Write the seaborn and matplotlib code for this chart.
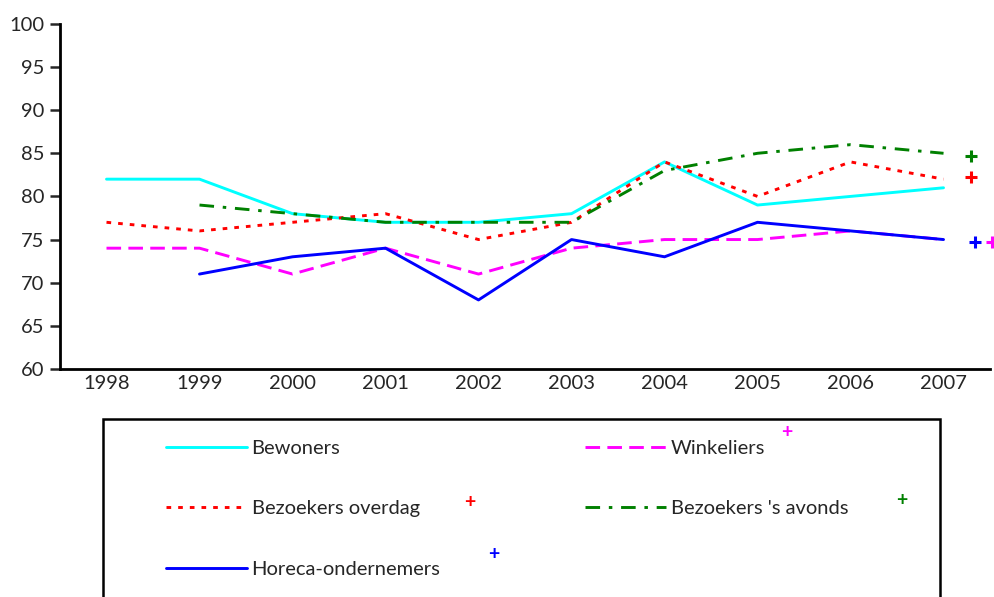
import numpy as np
import pandas as pd
import seaborn as sns
import matplotlib.pyplot as plt
from matplotlib.lines import Line2D
from matplotlib.patches import Rectangle

sns.set_style('white')
plt.rcParams['font.family'] = ['Lato', 'DejaVu Sans']

years = [1998, 1999, 2000, 2001, 2002, 2003, 2004, 2005, 2006, 2007]
bewoners = [82, 82, 78, 77, 77, 78, 84, 79, 80, 81]
winkeliers = [74, 74, 71, 74, 71, 74, 75, 75, 76, 75]
overdag = [77, 76, 77, 78, 75, 77, 84, 80, 84, 82]
avonds = [np.nan, 79, 78, 77, 77, 77, 83, 85, 86, 85]
horeca = [np.nan, 71, 73, 74, 68, 75, 73, 77, 76, 75]

series_names = ['Bewoners', 'Winkeliers', 'Bezoekers overdag',
                "Bezoekers 's avonds", 'Horeca-ondernemers']
colors = ['#00FFFF', '#FF00FF', '#FF0000', '#008000', '#0000FF']
dash_styles = ['', (5, 2.5), (1.6, 2.4), (5, 3, 1.2, 3), '']

# significance crosses next to the 2007 values
sig_x = [2007.3, 2007.3, 2007.34, 2007.52]
sig_y = [84.7, 82.3, 74.7, 74.7]
sig_colors = ['#008000', '#FF0000', '#0000FF', '#FF00FF']

df = pd.DataFrame({'jaar': years, 'Bewoners': bewoners, 'Winkeliers': winkeliers,
                   'Bezoekers overdag': overdag, "Bezoekers 's avonds": avonds,
                   'Horeca-ondernemers': horeca})
long = df.melt(id_vars='jaar', var_name='groep', value_name='score').dropna()

fig = plt.figure(figsize=(9.95, 5.97), dpi=100)
ax = fig.add_axes([0.0603, 0.382, 0.9347, 0.578])

sns.lineplot(data=long, x='jaar', y='score', hue='groep', style='groep',
             hue_order=series_names, style_order=series_names,
             palette=dict(zip(series_names, colors)),
             dashes=dict(zip(series_names, dash_styles)),
             linewidth=2.1, legend=False, ax=ax)

for x, y, c in zip(sig_x, sig_y, sig_colors):
    ax.plot(x, y, marker='+', color=c, markersize=8, mew=2.2, clip_on=False)

ax.set_xlim(1997.5, 2007.5)
ax.set_ylim(60, 100)
ax.set_xticks(years)
ax.set_xticklabels([str(y) for y in years])
ax.set_yticks(range(60, 101, 5))
ax.set_xlabel('')
ax.set_ylabel('')
ax.tick_params(axis='x', length=0, labelsize=14.5, pad=4)
ax.tick_params(axis='y', length=7, width=1.8, direction='out', left=True, labelsize=14.5, pad=4)
sns.despine(ax=ax)
for s in ['left', 'bottom']:
    ax.spines[s].set_linewidth(2)
    ax.spines[s].set_color('black')

# legend box, cut off at bottom like the original
fig.add_artist(Rectangle((0.1035, -0.1), 0.8417, 0.398, transform=fig.transFigure,
                         fill=False, edgecolor='black', linewidth=1.8, clip_on=False))

handles = [Line2D([], [], color=c, lw=2.1, linestyle='-' if d == '' else (0, d))
           for c, d in zip(colors, dash_styles)]

leg_kw = dict(loc='upper left', frameon=False, fontsize=14.5, handlelength=4.0,
              handletextpad=0.25, labelspacing=2.15, borderpad=0, borderaxespad=0)
fig.legend([handles[0], handles[2], handles[4]],
           [series_names[0], series_names[2], series_names[4]],
           bbox_to_anchor=(166 / 995, 1 - 440 / 597), **leg_kw)
fig.legend([handles[1], handles[3]], [series_names[1], series_names[3]],
           bbox_to_anchor=(585 / 995, 1 - 440 / 597), **leg_kw)

leg_plus = [(787, 433, '#FF00FF'), (470, 502, '#FF0000'),
            (902, 501, '#008000'), (494, 555, '#0000FF')]
for px, py, c in leg_plus:
    fig.text(px / 995, 1 - py / 597, '+', color=c, fontsize=14, fontweight='bold',
             ha='center', va='center')

fig.savefig('out.png', dpi=100)
